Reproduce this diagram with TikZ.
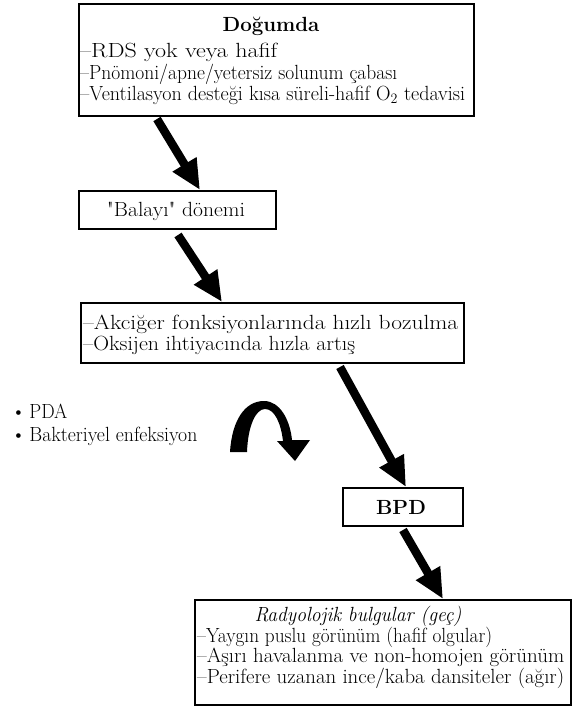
\documentclass[tikz,border=0pt]{standalone}
\usepackage{fontspec}
\newfontfamily\lmq{Latin Modern Roman}
\usetikzlibrary{arrows.meta}
\newcommand\fitw[2]{\resizebox{#1}{\height}{#2}}
\begin{document}
\begin{tikzpicture}[x=1pt,y=-1pt,
  box/.style={draw, line width=1.8pt, inner sep=0pt, anchor=north west},
  txt/.style={anchor=base west, inner sep=0pt, font=\fontsize{20.5}{22}\selectfont},
  ctxt/.style={txt, anchor=base},
  bigarrow/.style={line width=8.5pt, -{Triangle[length=30pt,width=26pt]}},
]
\useasboundingbox (0,0) rectangle (573,709);
% boxes
\node[box, minimum width=395pt, minimum height=112pt] (b1) at (78,3) {};
\node[box, minimum width=197pt, minimum height=38pt] (b2) at (78,190) {};
\node[box, minimum width=383pt, minimum height=60pt] (b3) at (80,302) {};
\node[box, minimum width=120pt, minimum height=38pt] (b4) at (342,487) {};
\node[box, minimum width=376pt, minimum height=105pt] (b5) at (194,599) {};
% box 1 text
\node[ctxt] (t1) at (271,32) {\textbf{Doğumda}};
\node[txt] (t2) at (80,58) {\fitw{197pt}{–RDS yok veya hafif}};
\node[txt] (t3) at (80,79) {\fitw{317pt}{–Pnömoni/apne/yetersiz solunum çabası}};
\node[txt] (t4) at (80,100) {\fitw{385pt}{–Ventilasyon desteği kısa süreli-hafif O\textsubscript{2} tedavisi}};
% box 2
\node[ctxt] (t5) at (176,216) {\fitw{138pt}{{\lmq"}Balayı{\lmq"} dönemi}};
% box 3
\node[txt] (t6) at (83,329) {\fitw{375pt}{–Akciğer fonksiyonlarında hızlı bozulma}};
\node[txt] (t7) at (83,350) {\fitw{272pt}{–Oksijen ihtiyacında hızla artış}};
% BPD
\node[ctxt] (t8) at (401,514) {\textbf{BPD}};
% box 5
\node[ctxt] (t9) at (358,621) {\fitw{207pt}{\textit{Radyolojik bulgular (geç)}}};
\node[txt] (t10) at (197,642) {\fitw{295pt}{–Yaygın puslu görünüm (hafif olgular)}};
\node[txt] (t11) at (197,662) {\fitw{367pt}{–Aşırı havalanma ve non-homojen görünüm}};
\node[txt] (t12) at (197,683) {\fitw{367pt}{–Perifere uzanan ince/kaba dansiteler (ağır)}};
% bullets
\node[txt] (t13) at (11,418) {\textbullet\,\fitw{38pt}{PDA}};
\node[txt] (t14) at (11,441) {\textbullet\,\fitw{168pt}{Bakteriyel enfeksiyon}};
% arrows
\coordinate (a1s) at (157,119);
\coordinate (a2s) at (178,235);
\coordinate (a3s) at (340,367);
\coordinate (a4s) at (403,530);
\draw[bigarrow] (a1s) -- ([xshift=122pt]b2.north west);
\draw[bigarrow] (a2s) -- ([xshift=142pt]b3.north west);
\draw[bigarrow] (a3s) -- ([xshift=64pt]b4.north west);
\draw[bigarrow] (a4s) -- ([xshift=249pt]b5.north west);
% curved arrow
\fill (230,452) .. controls (232,420) and (245,401) .. (264,401)
  .. controls (280,401) and (290,420) .. (292,440)
  -- (310,440) -- (295,461) -- (277,441) -- (283,441)
  .. controls (281,424) and (275,409) .. (265,409)
  .. controls (256,409) and (248,425) .. (247,452) -- cycle;
\end{tikzpicture}
\end{document}
